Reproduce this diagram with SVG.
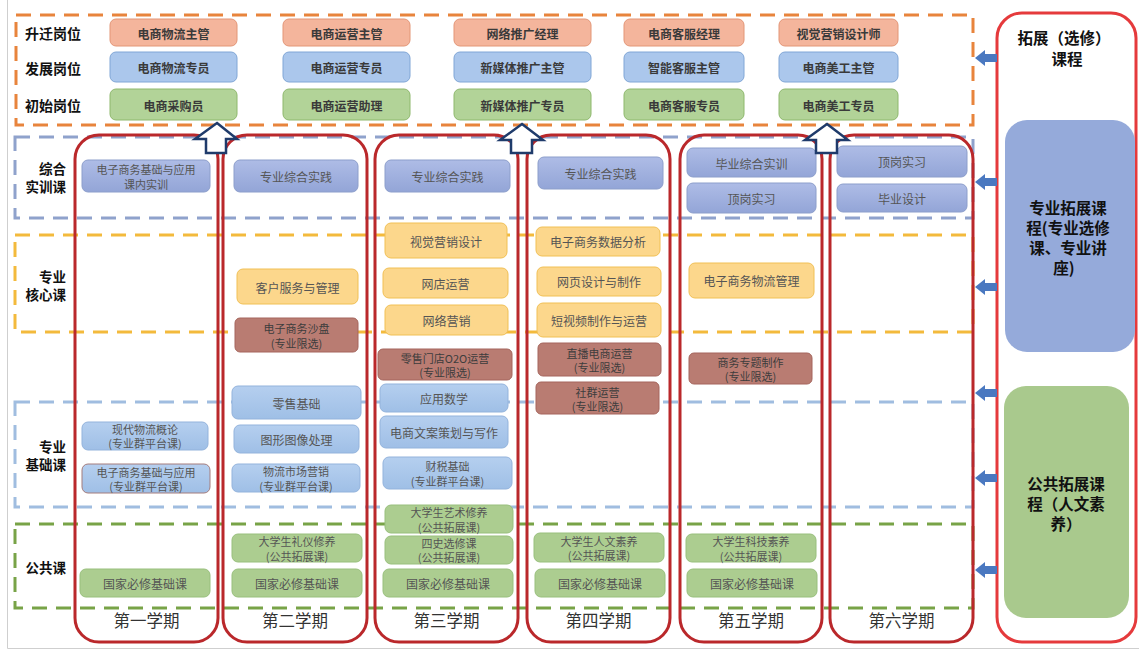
<svg xmlns="http://www.w3.org/2000/svg" width="1139" height="649" viewBox="0 0 1139 649">
<defs>
<style>
text{font-family:"Noto Sans CJK SC","Noto Sans",sans-serif;dominant-baseline:central;text-anchor:middle}
.lbl{font-size:13.5px;font-weight:bold;fill:#111;text-anchor:end}
.lblS{font-size:14px;font-weight:bold;fill:#111;text-anchor:start}
.job text{font-size:12px;font-weight:bold;fill:#3a3a3a}
.c text{font-size:12px;fill:#555}
.c text.two{font-size:11px}
.jo rect{fill:#F4B59C;stroke:#E39677;stroke-width:1}
.jb rect{fill:#ABC7EC;stroke:#80A6D6;stroke-width:1}
.jg rect{fill:#B2D398;stroke:#8EB86D;stroke-width:1}
.cl rect{fill:url(#gl);stroke:#8C9ECB;stroke-width:1}
.cy rect{fill:#FCD78C;stroke:#F1C055;stroke-width:1}
.cr rect{fill:#B97C72;stroke:#A5655C;stroke-width:1}
.cr text{fill:#3d3d3d}
.cb rect{fill:url(#gb);stroke:#93B3DC;stroke-width:1}
.cg rect{fill:#ACCD90;stroke:#98BF7C;stroke-width:1}
.sec{fill:none;stroke-width:3;stroke-dasharray:15 9}
.sem{fill:none;stroke:#BA282B;stroke-width:3}
.semt{font-size:16.5px;fill:#333}
.up{fill:#fff;stroke:#1F3B6B;stroke-width:2.5;stroke-linejoin:miter}
.la{fill:#4A78C0}
.big{font-size:15.5px;font-weight:bold;fill:#111}
</style>
<linearGradient id="gl" x1="0" y1="0" x2="0" y2="1"><stop offset="0" stop-color="#AEBCE6"/><stop offset="1" stop-color="#93A5D7"/></linearGradient>
<linearGradient id="gb" x1="0" y1="0" x2="0" y2="1"><stop offset="0" stop-color="#B5CFEF"/><stop offset="1" stop-color="#9FBFE6"/></linearGradient>
</defs>
<rect x="0" y="0" width="1139" height="649" fill="#fff"/>
<path d="M7.5 0 V648.5 H1139" fill="none" stroke="#cfcfcf" stroke-width="1"/>

<!-- section dashed boxes -->
<g id="sections">
<rect class="sec" x="16" y="15" width="957" height="110" stroke="#E8843C"/>
<rect class="sec" x="15" y="137" width="958" height="81" stroke="#8FA2CC"/>
<rect class="sec" x="15" y="235" width="958" height="97" stroke="#F3BA3C"/>
<rect class="sec" x="15" y="402" width="958" height="105" stroke="#A0BDE0"/>
<rect class="sec" x="15" y="524" width="958" height="84" stroke="#78A347"/>
</g>

<g id="row-labels">
<text class="lblS" x="25" y="33">升迁岗位</text>
<text class="lblS" x="25" y="68">发展岗位</text>
<text class="lblS" x="25" y="105">初始岗位</text>
<text class="lbl"><tspan x="66" y="168">综合</tspan><tspan x="66" y="186">实训课</tspan></text>
<text class="lbl"><tspan x="66" y="276">专业</tspan><tspan x="66" y="294">核心课</tspan></text>
<text class="lbl"><tspan x="66" y="446">专业</tspan><tspan x="66" y="464">基础课</tspan></text>
<text class="lbl" x="66" y="567">公共课</text>
</g>

<!-- semester columns -->
<g id="sem1"><rect class="sem" x="75" y="135" width="143" height="507" rx="24"/><text class="semt" x="146.5" y="620">第一学期</text></g>
<g id="sem2"><rect class="sem" x="223" y="135" width="144" height="507" rx="24"/><text class="semt" x="295" y="620">第二学期</text></g>
<g id="sem3"><rect class="sem" x="375" y="135" width="143" height="507" rx="24"/><text class="semt" x="446.5" y="620">第三学期</text></g>
<g id="sem4"><rect class="sem" x="527" y="135" width="143" height="507" rx="24"/><text class="semt" x="598.5" y="620">第四学期</text></g>
<g id="sem5"><rect class="sem" x="680" y="135" width="142" height="507" rx="24"/><text class="semt" x="751" y="620">第五学期</text></g>
<g id="sem6"><rect class="sem" x="830" y="135" width="143" height="507" rx="24"/><text class="semt" x="901.5" y="620">第六学期</text></g>

<!-- job boxes -->
<g class="job jo" id="j11"><rect x="110" y="19" width="127" height="27" rx="6"/><text x="173.5" y="33">电商物流主管</text></g>
<g class="job jo" id="j12"><rect x="283" y="19" width="127" height="27" rx="6"/><text x="346.5" y="33">电商运营主管</text></g>
<g class="job jo" id="j13"><rect x="454" y="19" width="137" height="27" rx="6"/><text x="522.5" y="33">网络推广经理</text></g>
<g class="job jo" id="j14"><rect x="624" y="19" width="120" height="27" rx="6"/><text x="684" y="33">电商客服经理</text></g>
<g class="job jo" id="j15"><rect x="779" y="19" width="119" height="27" rx="6"/><text x="838.5" y="33">视觉营销设计师</text></g>
<g class="job jb" id="j21"><rect x="110" y="52" width="127" height="30" rx="6"/><text x="173.5" y="67.5">电商物流专员</text></g>
<g class="job jb" id="j22"><rect x="283" y="52" width="127" height="30" rx="6"/><text x="346.5" y="67.5">电商运营专员</text></g>
<g class="job jb" id="j23"><rect x="454" y="52" width="137" height="30" rx="6"/><text x="522.5" y="67.5">新媒体推广主管</text></g>
<g class="job jb" id="j24"><rect x="624" y="52" width="120" height="30" rx="6"/><text x="684" y="67.5">智能客服主管</text></g>
<g class="job jb" id="j25"><rect x="779" y="52" width="119" height="30" rx="6"/><text x="838.5" y="67.5">电商美工主管</text></g>
<g class="job jg" id="j31"><rect x="110" y="89" width="127" height="31" rx="6"/><text x="173.5" y="105">电商采购员</text></g>
<g class="job jg" id="j32"><rect x="283" y="89" width="127" height="31" rx="6"/><text x="346.5" y="105">电商运营助理</text></g>
<g class="job jg" id="j33"><rect x="454" y="89" width="137" height="31" rx="6"/><text x="522.5" y="105">新媒体推广专员</text></g>
<g class="job jg" id="j34"><rect x="624" y="89" width="120" height="31" rx="6"/><text x="684" y="105">电商客服专员</text></g>
<g class="job jg" id="j35"><rect x="779" y="89" width="119" height="31" rx="6"/><text x="838.5" y="105">电商美工专员</text></g>

<!-- semester 1 -->
<g class="c cl" id="c1a"><rect x="82" y="160" width="128" height="32" rx="6"/><text class="two"><tspan x="146" y="168.5">电子商务基础与应用</tspan><tspan x="146" y="183.5">课内实训</tspan></text></g>
<g class="c cb" id="c1b"><rect x="82" y="422" width="126" height="28" rx="6"/><text class="two"><tspan x="145" y="428.5">现代物流概论</tspan><tspan x="145" y="443">(专业群平台课)</tspan></text></g>
<g class="c cb" id="c1c"><rect x="82" y="464" width="128" height="29" rx="6" style="stroke:#A47C7C"/><text class="two"><tspan x="146" y="471.5">电子商务基础与应用</tspan><tspan x="146" y="486">(专业群平台课)</tspan></text></g>
<g class="c cg" id="c1d"><rect x="80" y="569" width="130" height="28" rx="6"/><text x="145" y="583">国家必修基础课</text></g>

<!-- semester 2 -->
<g class="c cl" id="c2a"><rect x="234" y="160" width="124" height="32" rx="6"/><text x="296" y="176">专业综合实践</text></g>
<g class="c cy" id="c2b"><rect x="237" y="269" width="121" height="35" rx="6"/><text x="297.5" y="287">客户服务与管理</text></g>
<g class="c cr" id="c2c"><rect x="235" y="318" width="123" height="34" rx="5"/><text class="two"><tspan x="296.5" y="327.5">电子商务沙盘</tspan><tspan x="296.5" y="342.5">(专业限选)</tspan></text></g>
<g class="c cb" id="c2d"><rect x="232" y="386" width="129" height="33" rx="6"/><text x="296.5" y="403">零售基础</text></g>
<g class="c cb" id="c2e"><rect x="234" y="425" width="125" height="28" rx="6"/><text x="296.5" y="439">图形图像处理</text></g>
<g class="c cb" id="c2f"><rect x="232" y="464" width="128" height="28" rx="6"/><text class="two"><tspan x="296" y="471">物流市场营销</tspan><tspan x="296" y="485.5">(专业群平台课)</tspan></text></g>
<g class="c cg" id="c2g"><rect x="232" y="534" width="130" height="28" rx="6"/><text class="two"><tspan x="297" y="541">大学生礼仪修养</tspan><tspan x="297" y="555.5">(公共拓展课)</tspan></text></g>
<g class="c cg" id="c2h"><rect x="232" y="569" width="130" height="28" rx="6"/><text x="297" y="583">国家必修基础课</text></g>

<!-- semester 3 -->
<g class="c cl" id="c3a"><rect x="385" y="160" width="125" height="32" rx="6"/><text x="447.5" y="176">专业综合实践</text></g>
<g class="c cy" id="c3b"><rect x="385" y="223" width="122" height="35" rx="6"/><text x="446" y="241">视觉营销设计</text></g>
<g class="c cy" id="c3c"><rect x="383" y="268" width="125" height="30" rx="6"/><text x="445.5" y="283">网店运营</text></g>
<g class="c cy" id="c3d"><rect x="385" y="305" width="123" height="30" rx="6"/><text x="446.5" y="320">网络营销</text></g>
<g class="c cr" id="c3e"><rect x="378" y="349" width="134" height="31" rx="5"/><text class="two"><tspan x="445" y="357.5">零售门店O2O运营</tspan><tspan x="445" y="372">(专业限选)</tspan></text></g>
<g class="c cb" id="c3f"><rect x="380" y="384" width="128" height="28" rx="6"/><text x="444" y="398">应用数学</text></g>
<g class="c cb" id="c3g"><rect x="380" y="416" width="128" height="32" rx="6"/><text x="444" y="432">电商文案策划与写作</text></g>
<g class="c cb" id="c3h"><rect x="383" y="457" width="129" height="32" rx="6"/><text class="two"><tspan x="447.5" y="466">财税基础</tspan><tspan x="447.5" y="480.5">(专业群平台课)</tspan></text></g>
<g class="c cg" id="c3i"><rect x="385" y="505" width="128" height="28" rx="6"/><text class="two"><tspan x="449" y="512">大学生艺术修养</tspan><tspan x="449" y="526.5">(公共拓展课)</tspan></text></g>
<g class="c cg" id="c3j"><rect x="385" y="536" width="128" height="28" rx="6"/><text class="two"><tspan x="449" y="542.5">四史选修课</tspan><tspan x="449" y="557">(公共拓展课)</tspan></text></g>
<g class="c cg" id="c3k"><rect x="383" y="569" width="130" height="28" rx="6"/><text x="448" y="583">国家必修基础课</text></g>

<!-- semester 4 -->
<g class="c cl" id="c4a"><rect x="538" y="157" width="125" height="32" rx="6"/><text x="600.5" y="173">专业综合实践</text></g>
<g class="c cy" id="c4b"><rect x="536" y="227" width="124" height="29" rx="6"/><text x="598" y="241.5">电子商务数据分析</text></g>
<g class="c cy" id="c4c"><rect x="537" y="267" width="124" height="29" rx="6"/><text x="599" y="281.5">网页设计与制作</text></g>
<g class="c cy" id="c4d"><rect x="537" y="303" width="124" height="34" rx="6"/><text x="599" y="320">短视频制作与运营</text></g>
<g class="c cr" id="c4e"><rect x="538" y="343" width="123" height="33" rx="5"/><text class="two"><tspan x="599.5" y="352.5">直播电商运营</tspan><tspan x="599.5" y="367">(专业限选)</tspan></text></g>
<g class="c cr" id="c4f"><rect x="536" y="382" width="123" height="32" rx="5"/><text class="two"><tspan x="597.5" y="391.5">社群运营</tspan><tspan x="597.5" y="406">(专业限选)</tspan></text></g>
<g class="c cg" id="c4g"><rect x="534" y="533" width="130" height="29" rx="6"/><text class="two"><tspan x="599" y="540.5">大学生人文素养</tspan><tspan x="599" y="555">(公共拓展课)</tspan></text></g>
<g class="c cg" id="c4h"><rect x="535" y="569" width="130" height="28" rx="6"/><text x="600" y="583">国家必修基础课</text></g>

<!-- semester 5 -->
<g class="c cl" id="c5a"><rect x="687" y="148" width="129" height="29" rx="6"/><text x="751.5" y="163">毕业综合实训</text></g>
<g class="c cl" id="c5b"><rect x="687" y="183" width="129" height="30" rx="6"/><text x="751.5" y="198">顶岗实习</text></g>
<g class="c cy" id="c5c"><rect x="689" y="263" width="125" height="35" rx="6"/><text x="751.5" y="280.5">电子商务物流管理</text></g>
<g class="c cr" id="c5d"><rect x="689" y="353" width="123" height="31" rx="5"/><text class="two"><tspan x="750.5" y="361.5">商务专题制作</tspan><tspan x="750.5" y="376">(专业限选)</tspan></text></g>
<g class="c cg" id="c5e"><rect x="686" y="534" width="130" height="28" rx="6"/><text class="two"><tspan x="751" y="541">大学生科技素养</tspan><tspan x="751" y="555.5">(公共拓展课)</tspan></text></g>
<g class="c cg" id="c5f"><rect x="687" y="569" width="130" height="28" rx="6"/><text x="752" y="583">国家必修基础课</text></g>

<!-- semester 6 -->
<g class="c cl" id="c6a"><rect x="837" y="146" width="130" height="31" rx="6"/><text x="902" y="161">顶岗实习</text></g>
<g class="c cl" id="c6b"><rect x="837" y="184" width="130" height="28" rx="6"/><text x="902" y="198">毕业设计</text></g>

<!-- right panel -->
<g id="ext">
<rect x="997" y="13" width="139" height="629" rx="25" fill="#fff" stroke="#E53A3C" stroke-width="3"/>
<text class="big"><tspan x="1064" y="36.5">拓展（选修）</tspan><tspan x="1067" y="57.5">课程</tspan></text>
</g>
<g id="ext-major">
<rect x="1005" y="120" width="130" height="232" rx="22" fill="#95AADA"/>
<text class="big"><tspan x="1068" y="207">专业拓展课</tspan><tspan x="1068" y="227">程(专业选修</tspan><tspan x="1068" y="247">课、专业讲</tspan><tspan x="1064" y="267">座)</tspan></text>
</g>
<g id="ext-public">
<rect x="1004" y="386" width="125" height="232" rx="22" fill="#A9C98D"/>
<text class="big"><tspan x="1066" y="483">公共拓展课</tspan><tspan x="1066" y="503">程（人文素</tspan><tspan x="1066" y="523">养）</tspan></text>
</g>

<!-- connectors -->
<g id="connectors">
<polygon class="up" points="217,123 237,139 226,139 226,153 206,153 206,139 195,139"/>
<polygon class="up" points="522,124 543,140 532,140 532,153 511,153 511,140 500,140"/>
<polygon class="up" points="827,124 848,140 837,140 837,153 816,153 816,140 805,140"/>
<polygon class="la" points="975,58 985,50 985,54 997,54 997,62 985,62 985,66"/>
<polygon class="la" points="975,182 985,174 985,178 997,178 997,186 985,186 985,190"/>
<polygon class="la" points="975,287 985,279 985,283 997,283 997,291 985,291 985,295"/>
<polygon class="la" points="975,393 985,385 985,389 997,389 997,397 985,397 985,401"/>
<polygon class="la" points="975,478 985,470 985,474 997,474 997,482 985,482 985,486"/>
<polygon class="la" points="975,570 985,562 985,566 997,566 997,574 985,574 985,578"/>
</g>
</svg>
